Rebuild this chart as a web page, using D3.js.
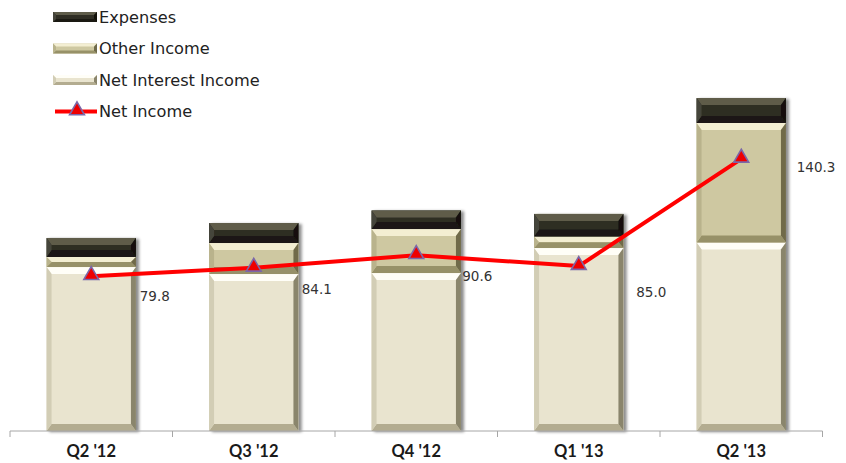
<!DOCTYPE html>
<html>
<head>
<meta charset="utf-8">
<script src="https://cdn.jsdelivr.net/npm/d3@7/dist/d3.min.js"></script>
<style>
  html, body { margin: 0; padding: 0; background: #ffffff; }
  svg { display: block; }
</style>
</head>
<body>
<svg id="chart" width="846" height="463"></svg>
<script>
// Quarterly figures
const quarters = ["Q2 '12", "Q3 '12", "Q4 '12", "Q1 '13", "Q2 '13"];
const netInterestIncome = [84.5, 80.9, 81.4, 94.3, 97.2];
const otherIncome = [5.2, 16.0, 22.7, 6.0, 61.6];
const expenses = [9.8, 10.3, 9.6, 11.6, 12.8];
const netIncome = [79.8, 84.1, 90.6, 85.0, 140.3];
const netIncomeLabels = ["79.8", "84.1", "90.6", "85.0", "140.3"];

const seriesKeys = ["nii", "other", "exp"];

// Bevel palettes: face, top, bottom, left, right
const palette = {
  exp:   { face: "#2f2e24", top: "#5e5c4a", bottom: "#1a1912", left: "#45443a", right: "#121109" },
  other: { face: "#cec8a1", top: "#f3eed2", bottom: "#979168", left: "#b9b38c", right: "#6f6a4a" },
  nii:   { face: "#e9e4cf", top: "#fffef7", bottom: "#b3ac90", left: "#d2cdb5", right: "#8a856c" }
};

const svg = d3.select("#chart");

const x = d3.scaleBand()
  .domain(quarters)
  .range([10, 822.5])
  .paddingInner(0.45)
  .paddingOuter(0.225);

const y = d3.scaleLinear().domain([0, 200]).range([431, 43]);

const rows = quarters.map((q, i) => ({
  q, nii: netInterestIncome[i], other: otherIncome[i], exp: expenses[i]
}));
const stacked = d3.stack().keys(seriesKeys)(rows);

// Soft drop shadow behind the columns
const defs = svg.append("defs");
const f = defs.append("filter").attr("id", "shadow")
  .attr("x", "-20%").attr("y", "-20%").attr("width", "140%").attr("height", "140%");
f.append("feDropShadow").attr("dx", 3).attr("dy", 1).attr("stdDeviation", 1.6)
  .attr("flood-color", "#000").attr("flood-opacity", 0.45);

// Draws a bevelled box (face plus four edge trapezoids)
function bevelBox(g, x0, y0, w, h, pal, bt, bs) {
  const tb = Math.min(bt, h / 2), sb = Math.min(bs, w / 2);
  const x1 = x0 + w, y1 = y0 + h;
  g.append("rect").attr("x", x0).attr("y", y0).attr("width", w).attr("height", h).attr("fill", pal.face);
  const poly = (pts, fill) => g.append("polygon")
    .attr("points", pts.map(p => p.join(",")).join(" ")).attr("fill", fill);
  poly([[x0, y0], [x1, y0], [x1 - sb, y0 + tb], [x0 + sb, y0 + tb]], pal.top);
  poly([[x0, y1], [x1, y1], [x1 - sb, y1 - tb], [x0 + sb, y1 - tb]], pal.bottom);
  poly([[x0, y0], [x0 + sb, y0 + tb], [x0 + sb, y1 - tb], [x0, y1]], pal.left);
  poly([[x1, y0], [x1 - sb, y0 + tb], [x1 - sb, y1 - tb], [x1, y1]], pal.right);
}

// Columns
const barsG = svg.append("g").attr("filter", "url(#shadow)");
quarters.forEach((q, i) => {
  const colG = barsG.append("g");
  stacked.forEach(layer => {
    const d = layer[i];
    const top = y(d[1]), bot = y(d[0]);
    bevelBox(colG, x(q), top, x.bandwidth(), bot - top, palette[layer.key], 7, 5);
  });
});

// Category axis
const axisY = 431;
const axisG = svg.append("g");
axisG.append("line")
  .attr("x1", x.range()[0]).attr("x2", x.range()[1])
  .attr("y1", axisY).attr("y2", axisY)
  .attr("stroke", "#a6a6a6").attr("stroke-width", 1);
const step = x.step();
const tickXs = d3.range(quarters.length + 1).map(k => x.range()[0] + k * step);
axisG.selectAll("line.tick").data(tickXs).join("line")
  .attr("class", "tick")
  .attr("x1", d => d).attr("x2", d => d)
  .attr("y1", axisY).attr("y2", axisY + 6)
  .attr("stroke", "#a6a6a6").attr("stroke-width", 1);
axisG.selectAll("text").data(quarters).join("text")
  .attr("x", d => x(d) + x.bandwidth() / 2)
  .attr("y", 457)
  .attr("text-anchor", "middle")
  .attr("font-family", "Lato, 'Open Sans', sans-serif")
  .attr("font-weight", "bold")
  .attr("font-size", 16.5)
  .attr("fill", "#1a1a1a")
  .text(d => d);

// Net income line
const cx = q => x(q) + x.bandwidth() / 2;
const line = d3.line().x((d, i) => cx(quarters[i])).y(d => y(d));
svg.append("path")
  .datum(netIncome)
  .attr("d", line)
  .attr("fill", "none")
  .attr("stroke", "#ff0000")
  .attr("stroke-width", 4)
  .attr("stroke-linejoin", "round");

const tri = d3.symbol().type(d3.symbolTriangle).size(95);
svg.selectAll("path.marker").data(netIncome).join("path")
  .attr("class", "marker")
  .attr("d", tri)
  .attr("transform", (d, i) => `translate(${cx(quarters[i])},${y(d) - 1})`)
  .attr("fill", "#ee0000")
  .attr("stroke", "#7b67a8")
  .attr("stroke-width", 1.6);

// Value labels, set to the lower right of each point
const labelNudge = [[48.5, 25], [48, 26], [46, 26], [57.5, 31], [55.5, 13]];
svg.selectAll("text.val").data(netIncome).join("text")
  .attr("class", "val")
  .attr("x", (d, i) => cx(quarters[i]) + labelNudge[i][0])
  .attr("y", (d, i) => y(d) + labelNudge[i][1])
  .attr("font-family", "'DejaVu Sans', sans-serif")
  .attr("font-size", 13.5)
  .attr("fill", "#333")
  .text((d, i) => netIncomeLabels[i]);

// Legend
const legendItems = [
  { key: "exp", label: "Expenses" },
  { key: "other", label: "Other Income" },
  { key: "nii", label: "Net Interest Income" },
  { key: "line", label: "Net Income" }
];
const lg = svg.append("g");
legendItems.forEach((it, k) => {
  const cy = 17 + k * 31.5;
  if (it.key === "line") {
    lg.append("line").attr("x1", 55).attr("x2", 97).attr("y1", cy).attr("y2", cy)
      .attr("stroke", "#ff0000").attr("stroke-width", 4);
    lg.append("path").attr("d", tri).attr("transform", `translate(77,${cy - 1})`)
      .attr("fill", "#ee0000").attr("stroke", "#7b67a8").attr("stroke-width", 1.6);
  } else {
    const sg = lg.append("g");
    bevelBox(sg, 53, cy - 5, 44, 10, palette[it.key], 3, 3);
  }
  lg.append("text")
    .attr("x", 99).attr("y", cy + 5.5)
    .attr("font-family", "'DejaVu Sans', sans-serif")
    .attr("font-size", 16.2)
    .attr("fill", "#222")
    .text(it.label);
});
</script>
</body>
</html>
